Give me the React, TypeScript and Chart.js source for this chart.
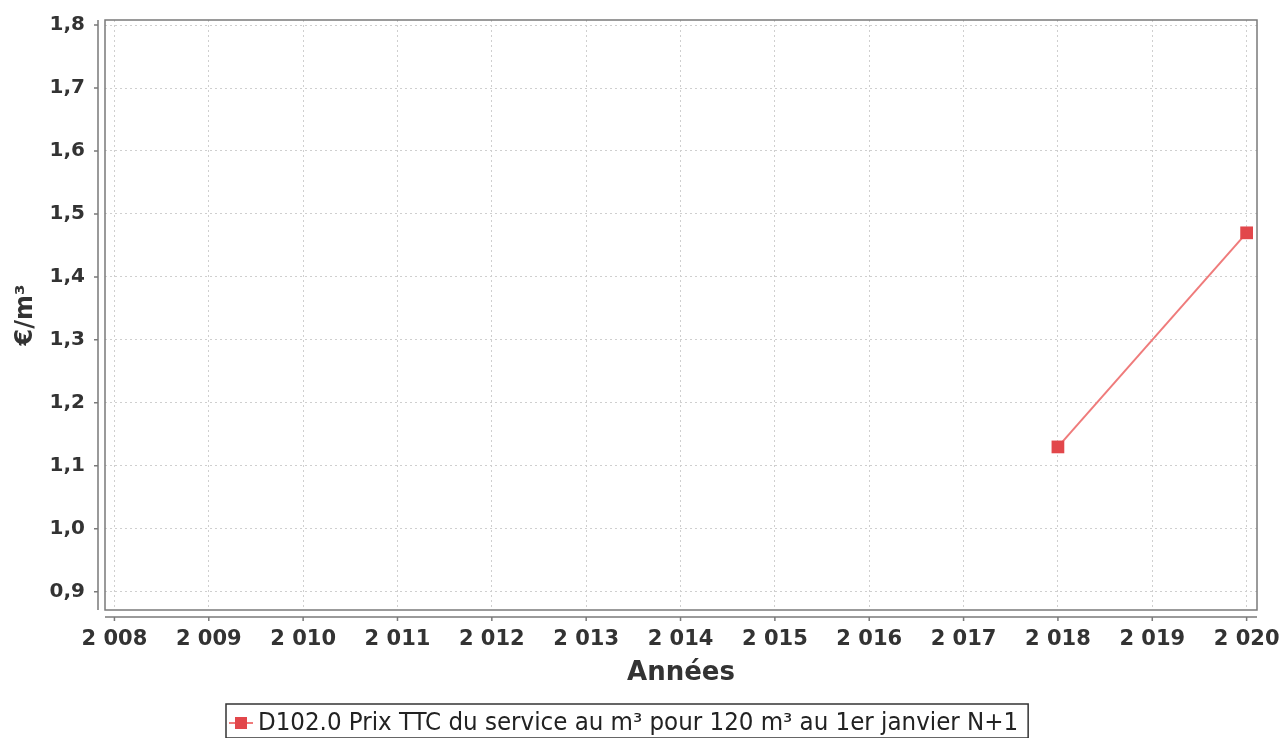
import React, { useEffect, useRef } from "react";
import { Chart, registerables } from "chart.js";

Chart.register(...registerables);

const years = [2018, 2020];
const prices = [1.13, 1.47];
const xTickValues = [2008, 2009, 2010, 2011, 2012, 2013, 2014, 2015, 2016, 2017, 2018, 2019, 2020];
const yTickValues = [0.9, 1.0, 1.1, 1.2, 1.3, 1.4, 1.5, 1.6, 1.7, 1.8];
const seriesLabel = "D102.0 Prix TTC du service au m³ pour 120 m³ au 1er janvier N+1";
const xTitle = "Années";
const yTitle = "€/m³";

const LINE_COLOR = "#ef7b7b";
const POINT_COLOR = "#e2474b";
const AXIS_COLOR = "#7a7a7a";

const fmtYear = (v: number) => String(Math.round(v)).replace(/^(\d)(\d{3})$/, "$1 $2");
const fmtY = (v: number) => v.toFixed(1).replace(".", ",");

const framePlugin = {
  id: "frame",
  afterDraw(chart: any) {
    const { ctx, chartArea } = chart;
    const { left, right, top, bottom } = chartArea;
    ctx.save();
    ctx.strokeStyle = AXIS_COLOR;
    ctx.lineWidth = 1.5;
    ctx.strokeRect(left, top, right - left, bottom - top);
    // offset axis lines
    const ax = left - 7;
    const ay = bottom + 7;
    ctx.lineWidth = 1.5;
    ctx.beginPath();
    ctx.moveTo(ax, top);
    ctx.lineTo(ax, bottom);
    ctx.moveTo(left, ay);
    ctx.lineTo(right, ay);
    const ys = chart.scales.y;
    for (const t of ys.ticks) {
      const py = ys.getPixelForValue(t.value);
      ctx.moveTo(ax - 4, py);
      ctx.lineTo(ax, py);
    }
    const xs = chart.scales.x;
    for (const t of xs.ticks) {
      const px = xs.getPixelForValue(t.value);
      ctx.moveTo(px, ay);
      ctx.lineTo(px, ay + 4);
    }
    ctx.stroke();

    // legend
    const sx = 1.065;
    ctx.font = "24px 'DejaVu Sans Condensed', 'DejaVu Sans'";
    const tw = ctx.measureText(seriesLabel).width * sx;
    const lx = 226;
    const ly = 704;
    const lh = 34;
    const w = 32 + tw + 10;
    ctx.strokeStyle = "#333";
    ctx.lineWidth = 1.5;
    ctx.strokeRect(lx, ly, w, lh);
    const cy = ly + 19;
    ctx.strokeStyle = LINE_COLOR;
    ctx.lineWidth = 2;
    ctx.beginPath();
    ctx.moveTo(lx + 3, cy);
    ctx.lineTo(lx + 27, cy);
    ctx.stroke();
    ctx.fillStyle = POINT_COLOR;
    ctx.fillRect(lx + 9, cy - 6, 12, 12);
    ctx.fillStyle = "#222";
    ctx.textBaseline = "middle";
    ctx.textAlign = "left";
    ctx.translate(lx + 32, cy + 1);
    ctx.scale(sx, 1);
    ctx.fillText(seriesLabel, 0, 0);
    ctx.restore();
  },
};

export default function App() {
  const ref = useRef<HTMLCanvasElement | null>(null);
  useEffect(() => {
    if (!ref.current) return;
    const chart = new Chart(ref.current, {
      type: "line",
      data: {
        datasets: [
          {
            label: seriesLabel,
            data: years.map((y, i) => ({ x: y, y: prices[i] })),
            borderColor: LINE_COLOR,
            backgroundColor: POINT_COLOR,
            borderWidth: 2,
            pointStyle: "rect",
            pointRadius: 9,
            pointBackgroundColor: POINT_COLOR,
            pointBorderColor: POINT_COLOR,
            pointBorderWidth: 0,
          },
        ],
      },
      options: {
        animation: false,
        responsive: true,
        maintainAspectRatio: false,
        layout: { padding: { left: 0, right: 25, top: 20, bottom: 38 } },
        plugins: { legend: { display: false }, tooltip: { enabled: false } },
        scales: {
          x: {
            type: "linear",
            min: 2007.9,
            max: 2020.11,
            afterBuildTicks: (s: any) => {
              s.ticks = xTickValues.map((v) => ({ value: v }));
            },
            afterFit: (s: any) => {
              s.height = 90;
              s.paddingLeft = 0;
              s.paddingRight = 0;
            },
            ticks: {
              callback: (v: any) => fmtYear(Number(v)),
              font: { family: "'DejaVu Sans'", size: 21, weight: "bold" },
              color: "#333",
              padding: 17,
              maxRotation: 0,
              autoSkip: false,
            },
            grid: { color: "#cfcfcf", drawTicks: false, lineWidth: 1 },
            border: { display: false, dash: [2, 3] },
            title: {
              display: true,
              text: xTitle,
              font: { family: "'DejaVu Sans'", size: 26, weight: "bold" },
              color: "#333",
              padding: { top: 0, bottom: 11 },
            },
          },
          y: {
            type: "linear",
            min: 0.871,
            max: 1.808,
            afterBuildTicks: (s: any) => {
              s.ticks = yTickValues.map((v) => ({ value: v }));
            },
            afterFit: (s: any) => {
              s.width = 105;
              s.paddingTop = 0;
              s.paddingBottom = 0;
            },
            ticks: {
              callback: (v: any) => fmtY(Number(v)),
              font: { family: "'DejaVu Sans'", size: 20, weight: "bold" },
              color: "#333",
              padding: 20,
              autoSkip: false,
            },
            grid: { color: "#cfcfcf", drawTicks: false, lineWidth: 1 },
            border: { display: false, dash: [2, 3] },
            title: {
              display: true,
              text: yTitle,
              font: { family: "'DejaVu Sans'", size: 24, weight: "bold" },
              color: "#333",
              padding: { top: 11, bottom: 0 },
            },
          },
        },
      },
      plugins: [framePlugin],
    });
    return () => chart.destroy();
  }, []);
  return (
    <div style={{ position: "fixed", left: 0, top: 0, width: 1282, height: 738, background: "#fff" }}>
      <canvas ref={ref} />
    </div>
  );
}
